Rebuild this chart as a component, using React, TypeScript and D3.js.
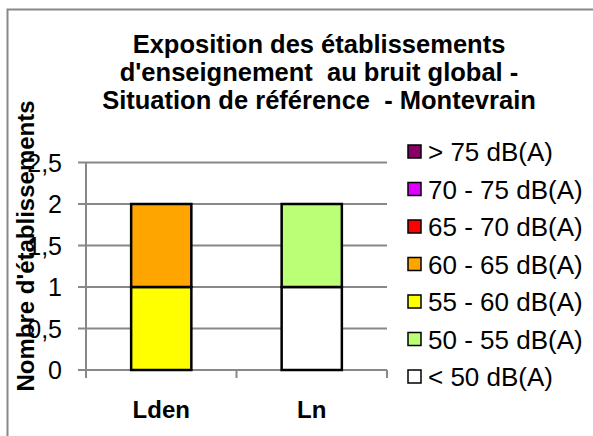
import React from "react";
import * as d3 from "d3";

const categories = ["Lden", "Ln"];
const seriesNames = [
  "< 50 dB(A)",
  "50 - 55 dB(A)",
  "55 - 60 dB(A)",
  "60 - 65 dB(A)",
  "65 - 70 dB(A)",
  "70 - 75 dB(A)",
  "> 75 dB(A)",
];
const seriesColors = ["#FFFFFF", "#BBFF77", "#FFFF00", "#FFA500", "#FF0000", "#DD00FF", "#880066"];
// values per category, one array per series (bottom to top)
const below50 = [0, 1];
const from50to55 = [0, 1];
const from55to60 = [1, 0];
const from60to65 = [1, 0];
const from65to70 = [0, 0];
const from70to75 = [0, 0];
const above75 = [0, 0];
const seriesValues = [below50, from50to55, from55to60, from60to65, from65to70, from70to75, above75];
const yTicks = [0, 0.5, 1, 1.5, 2, 2.5];
const titleLines = [
  "Exposition des établissements",
  "d'enseignement  au bruit global -",
  "Situation de référence  - Montevrain",
];
const yTitle = "Nombre d'établissements";

const W = 593;
const H = 436;
const font = "'Liberation Sans', Arial, sans-serif";

export default function App() {
  const x = d3.scaleBand<string>().domain(categories).range([86, 387]).paddingInner(0.6).paddingOuter(0.3);
  const y = d3.scaleLinear().domain([0, 2.5]).range([370, 162.5]);
  const rows = categories.map((c, i) => {
    const r: any = { cat: c };
    seriesNames.forEach((s, k) => (r[s] = seriesValues[k][i]));
    return r;
  });
  const stacked = d3.stack<any>().keys(seriesNames)(rows);
  const step = x.step();
  const boundaries = [86, 86 + step, 86 + 2 * step];
  const legendY = (i: number) => 152 + i * 37.5;

  return (
    <svg width={W} height={H} style={{ position: "absolute", left: 0, top: 0, background: "#fff" }} fontFamily={font}>
      <rect x={0} y={0} width={W} height={H} fill="#fff" />
      <path d={`M7.5,${H} V9.5 H${W}`} fill="none" stroke="#888" strokeWidth={2} />
      {titleLines.map((t, i) => (
        <text key={i} x={319} y={53 + i * 28} textAnchor="middle" fontSize={25.5} fontWeight="bold" style={{ whiteSpace: "pre" }}>
          {t}
        </text>
      ))}
      {yTicks.map((t) => (
        <g key={t}>
          <line x1={78} x2={387} y1={y(t)} y2={y(t)} stroke="#888" strokeWidth={2} />
          <text x={62} y={y(t)} dy="0.36em" textAnchor="end" fontSize={25}>
            {String(t).replace(".", ",")}
          </text>
        </g>
      ))}
      <line x1={86} x2={86} y1={y(2.5)} y2={y(0)} stroke="#888" strokeWidth={2} />
      {boundaries.map((b, i) => (
        <line key={i} x1={b} x2={b} y1={y(0)} y2={y(0) + 8} stroke="#888" strokeWidth={2} />
      ))}
      {stacked.map((s, k) =>
        s.map((d, i) =>
          d[1] - d[0] > 0 ? (
            <rect
              key={`${k}-${i}`}
              x={x(categories[i])!}
              y={y(d[1])}
              width={x.bandwidth()}
              height={y(d[0]) - y(d[1])}
              fill={seriesColors[k]}
              stroke="#000"
              strokeWidth={2.5}
            />
          ) : null
        )
      )}
      {categories.map((c) => (
        <text key={c} x={x(c)! + x.bandwidth() / 2} y={418} textAnchor="middle" fontSize={24} fontWeight="bold">
          {c}
        </text>
      ))}
      <text transform={`translate(34,246) rotate(-90)`} textAnchor="middle" fontSize={24} fontWeight="bold">
        {yTitle}
      </text>
      {seriesNames
        .map((s, k) => ({ s, k }))
        .reverse()
        .map(({ s, k }, i) => (
          <g key={s} transform={`translate(0,${legendY(i)})`}>
            <rect x={408} y={-7} width={13} height={13} fill={seriesColors[k]} stroke="#000" strokeWidth={1.5} />
            <text x={428} y={0} dy="0.36em" fontSize={26}>
              {s}
            </text>
          </g>
        ))}
    </svg>
  );
}
